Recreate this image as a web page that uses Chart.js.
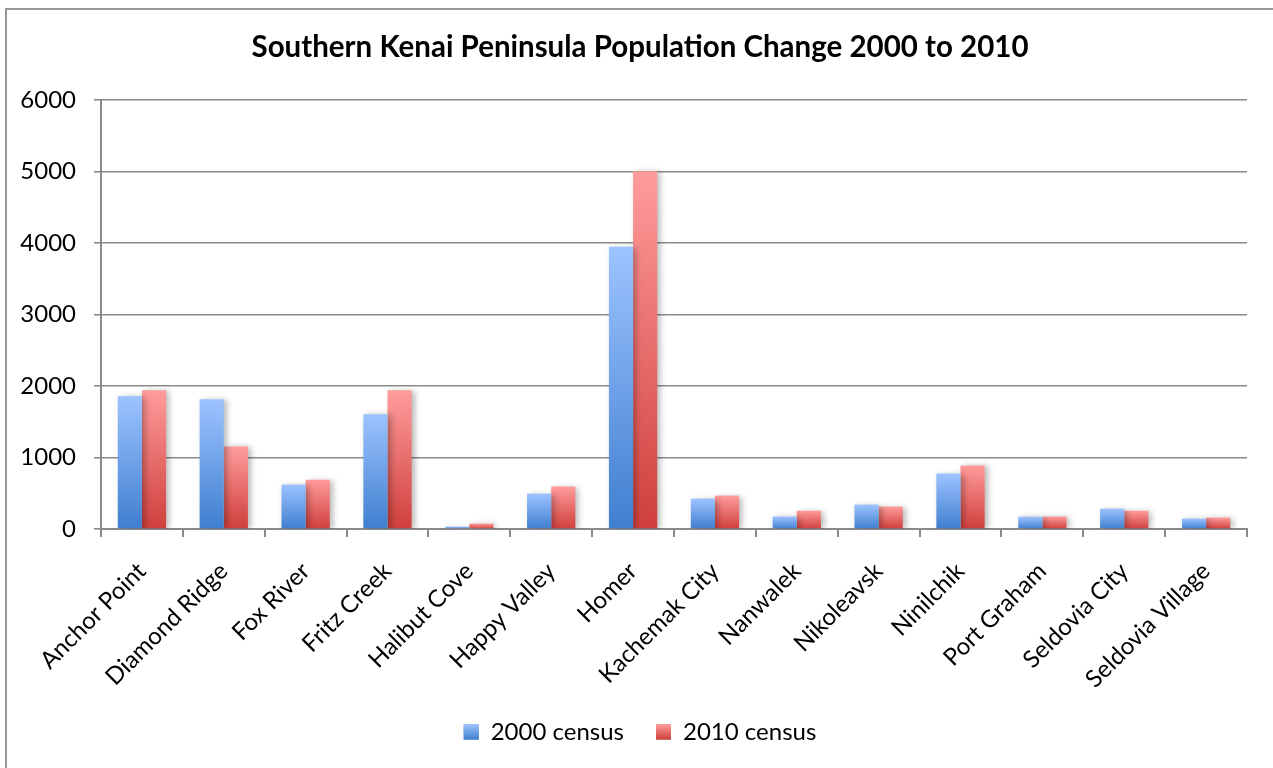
<!DOCTYPE html>
<html>
<head>
<meta charset="utf-8">
<title>Southern Kenai Peninsula Population Change 2000 to 2010</title>
<script src="https://cdn.jsdelivr.net/npm/chart.js@4"></script>
<style>
  html, body { margin: 0; padding: 0; background: #fff; overflow: hidden; }
  #frame {
    position: absolute; left: 5px; top: 8px; width: 1400px; height: 900px;
    border: 2px solid #969696; box-sizing: border-box;
  }
  #chart { position: absolute; left: 0; top: 0; }
</style>
</head>
<body>
<div id="frame"></div>
<canvas id="chart" width="1273" height="768"></canvas>
<script>
// Communities on the southern Kenai Peninsula
const places = [
  'Anchor Point', 'Diamond Ridge', 'Fox River', 'Fritz Creek', 'Halibut Cove',
  'Happy Valley', 'Homer', 'Kachemak City', 'Nanwalek', 'Nikoleavsk',
  'Ninilchik', 'Port Graham', 'Seldovia City', 'Seldovia Village'
];

// Population counts per census
const census2000 = [1855, 1813, 621, 1603, 33, 495, 3946, 425, 174, 341, 776, 173, 285, 145];
const census2010 = [1940, 1154, 690, 1940, 75, 593, 5003, 467, 256, 314, 888, 174, 256, 159];

const seriesNames = ['2000 census', '2010 census'];

// Value axis
const yMin = 0;
const yMax = 6000;
const yStep = 1000;

const FONT = 'Lato, "Open Sans", "DejaVu Sans", sans-serif';
const AXIS_GREY = '#8a8a8a';

const palette = [
  { light: '#9dc3ff', dark: '#3f7fcf' },
  { light: '#ff9c9b', dark: '#cf3f3c' }
];

// Vertical gradient that runs over the height of each individual bar
function barGradient(light, dark) {
  return function (ctx) {
    const chart = ctx.chart;
    const y = chart.scales && chart.scales.y;
    if (!chart.chartArea || !y || ctx.type !== 'data') return dark;
    const top = y.getPixelForValue(ctx.raw);
    const base = y.getPixelForValue(0);
    if (!isFinite(top) || !isFinite(base) || base - top < 1) return dark;
    const g = chart.ctx.createLinearGradient(0, top, 0, base);
    g.addColorStop(0, light);
    g.addColorStop(1, dark);
    return g;
  };
}

// Soft drop shadow behind the bars
const barShadow = {
  id: 'barShadow',
  beforeDatasetsDraw(chart) {
    const c = chart.ctx;
    c.save();
    c.shadowColor = 'rgba(0,0,0,0.28)';
    c.shadowBlur = 6;
    c.shadowOffsetX = 3;
    c.shadowOffsetY = 1;
  },
  afterDatasetsDraw(chart) {
    chart.ctx.restore();
  }
};

// Legend swatches painted with the same light-to-dark gradient as the bars
const legendSwatches = {
  id: 'legendSwatches',
  afterDraw(chart) {
    const legend = chart.legend;
    if (!legend || !legend.legendHitBoxes) return;
    const opts = legend.options.labels;
    const bw = opts.boxWidth, bh = opts.boxHeight;
    const fontSize = opts.font.size;
    const c = chart.ctx;
    legend.legendHitBoxes.forEach((hb, i) => {
      const p = palette[i];
      const top = hb.top + Math.max((fontSize - bh) / 2, 0);
      const g = c.createLinearGradient(0, top, 0, top + bh);
      g.addColorStop(0, p.light);
      g.addColorStop(1, p.dark);
      c.save();
      c.fillStyle = g;
      c.fillRect(hb.left, top, bw, bh);
      c.restore();
    });
  }
};

const data = {
  labels: places,
  datasets: [
    {
      label: seriesNames[0],
      data: census2000,
      backgroundColor: barGradient(palette[0].light, palette[0].dark),
      borderWidth: 0
    },
    {
      label: seriesNames[1],
      data: census2010,
      backgroundColor: barGradient(palette[1].light, palette[1].dark),
      borderWidth: 0
    }
  ]
};

new Chart(document.getElementById('chart'), {
  type: 'bar',
  data,
  plugins: [barShadow, legendSwatches],
  options: {
    responsive: false,
    animation: false,
    devicePixelRatio: 1,
    layout: { padding: { left: 7, right: 0, top: 22, bottom: 14 } },
    datasets: { bar: { categoryPercentage: 0.59, barPercentage: 1.0 } },
    plugins: {
      title: {
        display: true,
        text: 'Southern Kenai Peninsula Population Change 2000 to 2010',
        color: '#000',
        font: { family: FONT, size: 29.5, weight: 'bold' },
        padding: { top: 8, bottom: 34.5 }
      },
      legend: {
        position: 'bottom',
        labels: {
          color: '#000',
          font: { family: FONT, size: 24 },
          boxWidth: 15,
          boxHeight: 15,
          padding: 32
        }
      },
      tooltip: { enabled: false }
    },
    scales: {
      x: {
        offset: true,
        grid: {
          display: true,
          offset: true,
          drawOnChartArea: false,
          drawTicks: true,
          tickLength: 8,
          color: AXIS_GREY,
          lineWidth: 2
        },
        border: { display: true, color: AXIS_GREY, width: 2 },
        ticks: {
          color: '#000',
          font: { family: FONT, size: 24 },
          minRotation: 45,
          maxRotation: 45,
          autoSkip: false,
          padding: 20
        },
        afterFit(scale) {
          scale.height = 159;
          // long rotated names may run past the axis box; let them draw in full
          scale._computeLabelArea = () => undefined;
        }
      },
      y: {
        min: yMin,
        max: yMax,
        grid: {
          color: AXIS_GREY,
          lineWidth: 1.6,
          drawTicks: true,
          tickLength: 7
        },
        border: { display: true, color: AXIS_GREY, width: 2 },
        ticks: {
          stepSize: yStep,
          color: '#000',
          font: { family: FONT, size: 24 },
          padding: 18,
          callback: (v) => String(v)
        },
        afterFit(scale) { scale.width = 94; }
      },
      // empty margin on the right of the plot
      gutter: {
        type: 'linear',
        position: 'right',
        display: true,
        grid: { display: false },
        border: { display: false },
        ticks: { display: false },
        afterFit(scale) { scale.width = 26; }
      }
    }
  }
});
</script>
</body>
</html>
